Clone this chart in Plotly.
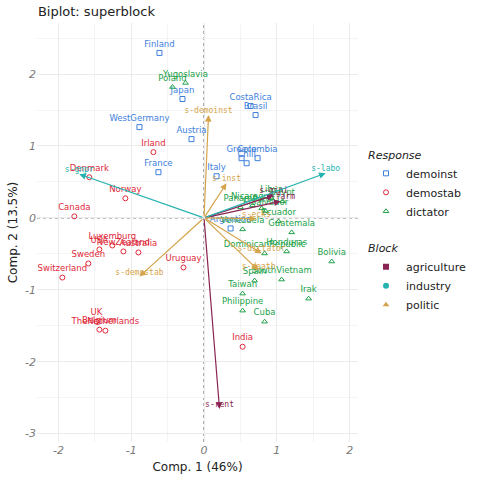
import plotly.graph_objects as go

# ---------------- data ----------------
demoinst_names = ["Finland", "Japan", "WestGermany", "Austria", "France", "Italy",
                  "CostaRica", "Brasil", "Greece", "Chili", "Colombia", "Argentina"]
demoinst_x = [-0.612, -0.296, -0.887, -0.172, -0.626, 0.172, 0.640, 0.708, 0.516, 0.585, 0.736, 0.365]
demoinst_y = [2.294, 1.653, 1.262, 1.095, 0.635, 0.579, 1.555, 1.430, 0.830, 0.760, 0.830, -0.147]

demostab_names = ["Irland", "Denmark", "Canada", "Norway", "USA", "Luxemburg", "NewZealand",
                  "Australia", "Sweden", "Switzerland", "UK", "Belgium", "TheNetherlands",
                  "Uruguay", "India"]
demostab_x = [-0.695, -1.575, -1.781, -1.080, -1.437, -1.259, -1.107, -0.901, -1.589, -1.946,
              -1.479, -1.437, -1.355, -0.282, 0.530]
demostab_y = [0.914, 0.565, 0.021, 0.272, -0.439, -0.384, -0.467, -0.481, -0.635, -0.830,
              -1.443, -1.555, -1.569, -0.690, -1.792]

dictator_names = ["Yugoslavia", "Poland", "Nicaragua", "Panama", "Libya", "Egypt", "Peru",
                  "ElSalvador", "Ecuador", "Guatemala", "Venezuela", "DominicanRepublic",
                  "Honduras", "Bolivia", "Spain", "SouthVietnam", "Taiwan", "Philippine",
                  "Cuba", "Irak"]
dictator_x = [-0.254, -0.433, 0.667, 0.502, 0.928, 1.080, 0.791, 0.846, 1.025, 1.204, 0.530,
              0.832, 1.135, 1.754, 0.695, 1.066, 0.530, 0.530, 0.832, 1.437]
dictator_y = [1.876, 1.820, 0.174, 0.146, 0.272, 0.230, 0.132, 0.091, -0.049, -0.202, -0.160,
              -0.495, -0.467, -0.607, -0.872, -0.858, -1.053, -1.290, -1.444, -1.123]

agri_vars = ["s-gini", "s-farm", "s-rent"]
agri_x = [0.956, 1.052, 0.213]
agri_y = [0.314, 0.230, -2.657]

ind_vars = ["s-gnpr", "s-labo"]
ind_x = [-1.713, 1.671]
ind_y = [0.607, 0.621]

pol_vars = ["s-demoinst", "s-inst", "s-ecks", "s-dictator", "s-death", "s-demostab"]
pol_x = [0.062, 0.309, 0.718, 0.791, 0.750, -0.887]
pol_y = [1.430, 0.481, -0.011, -0.495, -0.732, -0.816]

x_ticks = [-2, -1, 0, 1, 2]
y_ticks = [-3, -2, -1, 0, 1, 2]

# ---------------- styles ----------------
C_DEMOINST = "#3d7fdc"
C_DEMOSTAB = "#e0283a"
C_DICTATOR = "#22a24a"
C_AGRI = "#8a2452"
C_IND = "#25b3b0"
C_POL = "#d4a44a"

LABEL_FONT = "DejaVu Sans"
VAR_FONT = "DejaVu Sans Mono"

fig = go.Figure()

groups = [
    ("demoinst", demoinst_names, demoinst_x, demoinst_y, C_DEMOINST, "square-open"),
    ("demostab", demostab_names, demostab_x, demostab_y, C_DEMOSTAB, "circle-open"),
    ("dictator", dictator_names, dictator_x, dictator_y, C_DICTATOR, "triangle-up-open"),
]

blocks = [
    ("agriculture", agri_vars, agri_x, agri_y, C_AGRI, "square"),
    ("industry", ind_vars, ind_x, ind_y, C_IND, "circle"),
    ("politic", pol_vars, pol_x, pol_y, C_POL, "triangle-up"),
]

annotations = []
for name, vars_, xs, ys, col, sym in blocks:
    for v, xv, yv in zip(vars_, xs, ys):
        annotations.append(dict(
            x=xv, y=yv, ax=0, ay=0, xref="x", yref="y", axref="x", ayref="y",
            text="", showarrow=True, arrowhead=2, arrowsize=1.1, arrowwidth=1.2,
            arrowcolor=col, standoff=0,
        ))

for name, names, xs, ys, col, sym in groups:
    fig.add_trace(go.Scatter(
        x=xs, y=ys, mode="markers+text", text=names, textposition="top center",
        textfont=dict(family=LABEL_FONT, size=8.5, color=col),
        marker=dict(symbol=sym, size=5, color=col, line=dict(width=1, color=col)),
        name=name, legend="legend", cliponaxis=False,
    ))

for name, vars_, xs, ys, col, sym in blocks:
    fig.add_trace(go.Scatter(
        x=xs, y=ys, mode="text", text=vars_, textposition="top center",
        textfont=dict(family=VAR_FONT, size=8, color=col),
        showlegend=False, hoverinfo="skip", cliponaxis=False,
    ))
    fig.add_trace(go.Scatter(
        x=[None], y=[None], mode="markers",
        marker=dict(symbol=sym, size=6, color=col),
        name=name, legend="legend2",
    ))

shapes = [
    dict(type="line", xref="x", yref="paper", x0=0, x1=0, y0=0, y1=1,
         line=dict(color="#444", width=0.9, dash="3px,3px"), layer="below"),
    dict(type="line", xref="paper", yref="y", x0=0, x1=1, y0=0, y1=0,
         line=dict(color="#444", width=0.9, dash="3px,3px"), layer="below"),
]

axis_common = dict(
    showline=False, zeroline=False, ticks="",
    gridcolor="#ebebeb", gridwidth=1,
    tickfont=dict(family="DejaVu Sans", size=11, color="#7a7a7a", style="italic"),
    minor=dict(showgrid=True, gridcolor="#f4f4f4", gridwidth=1),
)

fig.update_layout(
    width=480, height=480,
    margin=dict(l=37, r=122, t=23, b=38, autoexpand=False),
    paper_bgcolor="white", plot_bgcolor="white",
    title=dict(text="Biplot: superblock", x=0.079, xanchor="left", y=0.977, yanchor="middle",
               font=dict(family="DejaVu Sans", size=13, color="#222")),
    xaxis=dict(range=[-2.294, 2.115], tickvals=x_ticks, ticktext=[str(t) for t in x_ticks],
               title=dict(text="Comp. 1 (46%)", standoff=6,
                          font=dict(family="DejaVu Sans", size=12, color="#222")),
               minor_tickvals=[-1.5, -0.5, 0.5, 1.5], **axis_common),
    yaxis=dict(range=[-3.117, 2.71], tickvals=y_ticks, ticktext=[str(t) for t in y_ticks],
               title=dict(text="Comp. 2 (13.5%)", standoff=4,
                          font=dict(family="DejaVu Sans", size=12, color="#222")),
               minor_tickvals=[-2.5, -1.5, -0.5, 0.5, 1.5, 2.5], **axis_common),
    legend=dict(x=1.025, y=0.71, xanchor="left", yanchor="top",
                title=dict(text="Response", font=dict(family="DejaVu Sans", size=11,
                                                      color="#222", style="italic")),
                font=dict(family="DejaVu Sans", size=11, color="#222"),
                itemwidth=30, tracegroupgap=0),
    legend2=dict(x=1.025, y=0.487, xanchor="left", yanchor="top",
                 title=dict(text="Block", font=dict(family="DejaVu Sans", size=11,
                                                    color="#222", style="italic")),
                 font=dict(family="DejaVu Sans", size=11, color="#222"),
                 itemwidth=30, tracegroupgap=0),
    shapes=shapes,
    annotations=annotations,
)

fig.write_html("out.html")
